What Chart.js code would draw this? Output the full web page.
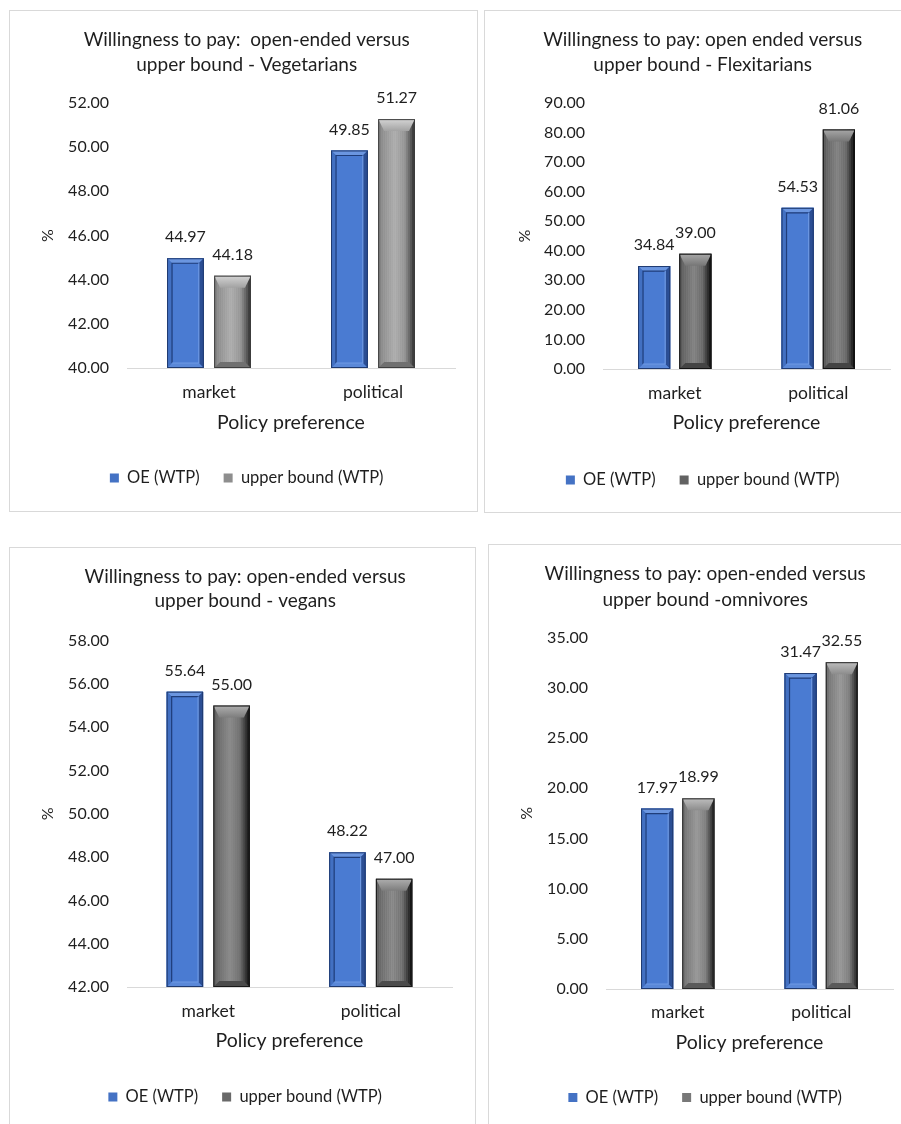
<!DOCTYPE html>
<html>
<head>
<meta charset="utf-8">
<script src="https://cdn.jsdelivr.net/npm/chart.js@4/dist/chart.umd.min.js"></script>
<style>
  body { margin: 0; background: #fff; width: 901px; height: 1124px; overflow: hidden; position: relative; }
  .panel { position: absolute; border: 1px solid #d9d9d9; background: #fff; }
  .panel canvas { display: block; }
</style>
</head>
<body>
<div class="panel" id="p1"><canvas id="c1"></canvas></div>
<div class="panel" id="p2"><canvas id="c2"></canvas></div>
<div class="panel" id="p3"><canvas id="c3"></canvas></div>
<div class="panel" id="p4"><canvas id="c4"></canvas></div>
<script>
// --- data ---
const categories = ["market", "political"];
const seriesLabels = ["OE (WTP)", "upper bound (WTP)"];
const xAxisLabel = "Policy preference";
const yAxisLabel = "%";

const vegetarianTitle = ["Willingness to pay:  open-ended versus", "upper bound - Vegetarians"];
const vegetarianOE = [44.97, 49.85];
const vegetarianUpper = [44.18, 51.27];
const vegetarianTicks = [40, 42, 44, 46, 48, 50, 52];

const flexitarianTitle = ["Willingness to pay: open ended versus", "upper bound - Flexitarians"];
const flexitarianOE = [34.84, 54.53];
const flexitarianUpper = [39.00, 81.06];
const flexitarianTicks = [0, 10, 20, 30, 40, 50, 60, 70, 80, 90];

const veganTitle = ["Willingness to pay: open-ended versus", "upper bound - vegans"];
const veganOE = [55.64, 48.22];
const veganUpper = [55.00, 47.00];
const veganTicks = [42, 44, 46, 48, 50, 52, 54, 56, 58];

const omnivoreTitle = ["Willingness to pay: open-ended versus", "upper bound -omnivores"];
const omnivoreOE = [17.97, 31.47];
const omnivoreUpper = [18.99, 32.55];
const omnivoreTicks = [0, 5, 10, 15, 20, 25, 30, 35];

// --- layout of each panel (box in page px, targets inside the canvas) ---
const panels = [
  { id: 1, box: [9, 10, 469, 502], title: vegetarianTitle, oe: vegetarianOE, up: vegetarianUpper, ticks: vegetarianTicks,
    plot: [117, 445, 92, 357], titleY: 29, titleLH: 25, catY: 381, axisTitleY: 412, legendY: 467, pctX: 38, gray: 172 },
  { id: 2, box: [484, 10, 434, 503], title: flexitarianTitle, oe: flexitarianOE, up: flexitarianUpper, ticks: flexitarianTicks,
    plot: [118, 405, 92, 358], titleY: 29, titleLH: 25, catY: 382, axisTitleY: 412, legendY: 469, pctX: 40, gray: 128 },
  { id: 3, box: [9, 547, 467, 583], title: veganTitle, oe: veganOE, up: veganUpper, ticks: veganTicks,
    plot: [117, 442, 92.6, 439], titleY: 29, titleLH: 24, catY: 463, axisTitleY: 493, legendY: 549, pctX: 38, gray: 135 },
  { id: 4, box: [488, 544, 430, 586], title: omnivoreTitle, oe: omnivoreOE, up: omnivoreUpper, ticks: omnivoreTicks,
    plot: [117, 404, 92.6, 444], titleY: 28.5, titleLH: 26, catY: 467, axisTitleY: 498, legendY: 552.5, pctX: 38, gray: 150 },
];

const FONT = "Lato, 'Open Sans', sans-serif";
const INK = "#1e1e1e";
const TICK_SIZE = 16;
const CAT_SIZE = 17.5, CAT_LH = 21;
const AXT_SIZE = 19.5, AXT_LH = 23.4;
const PCT_LH = 19.2;
const LEG_SIZE = 16.5, LEG_PAD = 24;

function poly(ctx, pts, fill) {
  ctx.beginPath();
  ctx.moveTo(pts[0][0], pts[0][1]);
  for (let i = 1; i < pts.length; i++) ctx.lineTo(pts[i][0], pts[i][1]);
  ctx.closePath();
  ctx.fillStyle = fill;
  ctx.fill();
}
const grey = (v) => { v = Math.max(0, Math.min(255, Math.round(v))); return `rgb(${v},${v},${v})`; };

function drawBlue(ctx, l, t, r, b) {
  const k = 5;
  poly(ctx, [[l, t], [r, t], [r, b], [l, b]], "#3b67b8");
  poly(ctx, [[l, t], [r, t], [r - k, t + k], [l + k, t + k]], "#6b96e0");
  poly(ctx, [[l, t], [l + k, t + k], [l + k, b - k], [l, b]], "#4270c2");
  poly(ctx, [[r, t], [r, b], [r - k, b - k], [r - k, t + k]], "#2b4e94");
  poly(ctx, [[l, b], [l + k, b - k], [r - k, b - k], [r, b]], "#5a88d8");
  ctx.fillStyle = "#4a7bd2";
  ctx.fillRect(l + k, t + k, r - l - 2 * k, b - t - 2 * k);
  ctx.lineWidth = 1.2;
  ctx.strokeStyle = "#1f3d7a";
  ctx.beginPath();
  ctx.moveTo(l + k, b - k); ctx.lineTo(l + k, t + k); ctx.lineTo(r - k, t + k);
  ctx.stroke();
  ctx.strokeStyle = "#6f9ae4";
  ctx.beginPath();
  ctx.moveTo(r - k, t + k); ctx.lineTo(r - k, b - k); ctx.lineTo(l + k, b - k);
  ctx.stroke();
  ctx.lineWidth = 1;
  ctx.strokeStyle = "#1f3a70";
  ctx.strokeRect(l + 0.5, t + 0.5, r - l - 1, b - t - 1);
}

function drawGray(ctx, l, t, r, b, tone) {
  const k = 6;
  const g = ctx.createLinearGradient(l, 0, r, 0);
  g.addColorStop(0, grey(tone - 55));
  g.addColorStop(0.12, grey(tone - 30));
  g.addColorStop(0.45, grey(tone));
  g.addColorStop(0.72, grey(tone - 25));
  g.addColorStop(0.88, grey(tone - 85));
  g.addColorStop(1, grey(tone - 140));
  ctx.fillStyle = g;
  ctx.fillRect(l, t, r - l, b - t);
  ctx.fillStyle = "rgba(255,255,255,0.08)";
  for (let xx = l + 1; xx < r - 1; xx += 2) ctx.fillRect(xx, t, 1, b - t);
  const cg = ctx.createLinearGradient(0, t, 0, t + k * 2);
  cg.addColorStop(0, grey(tone + 40));
  cg.addColorStop(1, grey(tone - 10));
  poly(ctx, [[l, t], [r, t], [r - k, t + k * 2], [l + k, t + k * 2]], cg);
  poly(ctx, [[l, b], [l + k, b - k], [r - k, b - k], [r, b]], grey(tone - 60));
  ctx.lineWidth = 1;
  ctx.strokeStyle = grey(tone - 110);
  ctx.strokeRect(l + 0.5, t + 0.5, r - l - 1, b - t - 1);
}

// bevelled bars + value labels drawn on top of the library's bar elements
const barDecor = {
  id: "barDecor",
  afterDatasetsDraw(chart, args, opts) {
    const ctx = chart.ctx;
    const area = chart.chartArea;
    ctx.save();
    chart.data.datasets.forEach((ds, i) => {
      const meta = chart.getDatasetMeta(i);
      meta.data.forEach((bar, j) => {
        const p = bar.getProps(["x", "y", "base", "width"], true);
        const l = p.x - p.width / 2, r = p.x + p.width / 2;
        const b = Math.min(p.base, area.bottom);
        if (i === 0) drawBlue(ctx, l, p.y, r, b);
        else drawGray(ctx, l, p.y, r, b, opts.gray);
        ctx.fillStyle = INK;
        ctx.font = `${TICK_SIZE}px ${FONT}`;
        ctx.textAlign = "center";
        ctx.textBaseline = "middle";
        ctx.fillText(ds.data[j].toFixed(2), p.x, p.y - 21);
      });
    });
    ctx.restore();
  },
};

function build(cfg) {
  const [bx, by, bw, bh] = cfg.box;
  const el = document.getElementById("p" + cfg.id);
  Object.assign(el.style, { left: bx + "px", top: by + "px", width: (bw - 2) + "px", height: (bh - 2) + "px" });
  const cw = bw - 2, ch = bh - 2;
  const canvas = document.getElementById("c" + cfg.id);
  canvas.width = cw; canvas.height = ch;

  const [pl, pr, pt, pb] = cfg.plot;
  const titleTop = cfg.titleY - cfg.titleLH / 2;
  const legendTop = cfg.legendY - LEG_PAD - LEG_SIZE / 2;
  const legendBottom = legendTop + LEG_SIZE + LEG_PAD + 10;
  const padLeft = cfg.pctX - PCT_LH / 2;
  const ticks = cfg.ticks;

  new Chart(canvas, {
    type: "bar",
    data: {
      labels: categories,
      datasets: [
        { label: seriesLabels[0], data: cfg.oe, backgroundColor: "#4472c4", borderWidth: 0 },
        { label: seriesLabels[1], data: cfg.up, backgroundColor: grey(cfg.gray - 30), borderWidth: 0 },
      ],
    },
    options: {
      responsive: false,
      animation: false,
      events: [],
      categoryPercentage: 0.575,
      barPercentage: 0.78,
      layout: { padding: { top: 0, left: padLeft, right: cw - pr, bottom: ch - legendBottom } },
      plugins: {
        title: {
          display: true, text: cfg.title, color: INK,
          font: { family: FONT, size: 19, weight: "normal", lineHeight: cfg.titleLH + "px" },
          padding: { top: titleTop, bottom: pt - titleTop - 2 * cfg.titleLH },
        },
        legend: {
          position: "bottom",
          labels: { color: INK, boxWidth: 9, boxHeight: 9, padding: LEG_PAD, font: { family: FONT, size: LEG_SIZE } },
        },
        tooltip: { enabled: false },
        barDecor: { gray: cfg.gray },
      },
      scales: {
        x: {
          grid: { display: false, drawTicks: false },
          border: { display: true, color: "#d9d9d9", width: 1 },
          ticks: { color: INK, padding: cfg.catY - pb - CAT_LH / 2, font: { family: FONT, size: CAT_SIZE, lineHeight: 1.2 } },
          title: {
            display: true, text: xAxisLabel, color: INK,
            font: { family: FONT, size: AXT_SIZE, lineHeight: 1.2 },
            padding: { top: 0, bottom: legendTop - cfg.axisTitleY - AXT_LH / 2 },
          },
          afterFit: (scale) => { scale.height = legendTop - pb; },
        },
        y: {
          min: ticks[0], max: ticks[ticks.length - 1],
          grid: { display: false, drawTicks: false },
          border: { display: false },
          ticks: {
            stepSize: ticks[1] - ticks[0], color: INK, padding: 18,
            font: { family: FONT, size: TICK_SIZE },
            callback: (v) => Number(v).toFixed(2),
          },
          title: {
            display: true, text: yAxisLabel, color: INK,
            font: { family: FONT, size: 16, lineHeight: 1.2 },
            padding: { top: 0, bottom: 0 },
          },
          afterFit: (scale) => { scale.width = pl - padLeft; },
        },
      },
    },
    plugins: [barDecor],
  });
}

panels.forEach(build);
</script>
</body>
</html>
